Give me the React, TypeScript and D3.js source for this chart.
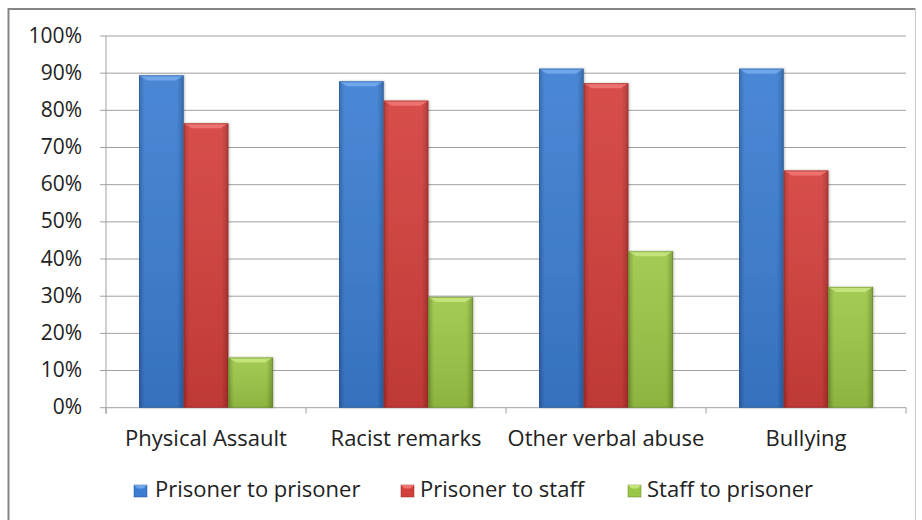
import React from "react";
import * as d3 from "d3";

const categories = ["Physical Assault", "Racist remarks", "Other verbal abuse", "Bullying"];
const seriesNames = ["Prisoner to prisoner", "Prisoner to staff", "Staff to prisoner"];
const prisonerToPrisoner = [0.894, 0.878, 0.912, 0.912];
const prisonerToStaff = [0.765, 0.826, 0.873, 0.638];
const staffToPrisoner = [0.135, 0.298, 0.421, 0.325];
const yTicks = [0, 0.1, 0.2, 0.3, 0.4, 0.5, 0.6, 0.7, 0.8, 0.9, 1.0];

const palettes = [
  { base: "#3b7dd1", dark: "#2a5fa6", light: "#6fa6ea", edge: "#24548f" },
  { base: "#d33f3b", dark: "#a62d2a", light: "#ee7370", edge: "#8f2826" },
  { base: "#9bc746", dark: "#74992d", light: "#c2e47a", edge: "#5f7f23" },
];

export default function App() {
  const W = 922, H = 520;
  const left = 106, right = 906, top = 36, bottom = 407.7;
  const x0 = d3.scaleBand<string>().domain(categories).range([left, right]).paddingInner(0.33).paddingOuter(0.165);
  const x1 = d3.scaleBand<number>().domain([0, 1, 2]).range([0, x0.bandwidth()]);
  const y = d3.scaleLinear().domain([0, 1]).range([bottom, top]);
  const series = [prisonerToPrisoner, prisonerToStaff, staffToPrisoner];
  const font = "Open Sans, sans-serif";
  const tickXs = d3.range(categories.length + 1).map((i) => left + (i * (right - left)) / categories.length);

  const legendSq = [134, 401, 628];
  const legendTx = [155, 420, 647];

  return (
    <svg width={W} height={H} style={{ position: "absolute", left: 0, top: 0 }}>
      <defs>
        {palettes.map((p, i) => (
          <linearGradient key={i} id={`g${i}`} x1="0" x2="1" y1="0" y2="0">
            <stop offset="0" stopColor={p.dark} />
            <stop offset="0.12" stopColor={p.base} />
            <stop offset="0.85" stopColor={p.base} />
            <stop offset="1" stopColor={p.dark} />
          </linearGradient>
        ))}
        {palettes.map((p, i) => (
          <linearGradient key={"v" + i} id={`v${i}`} x1="0" x2="0" y1="0" y2="1">
            <stop offset="0" stopColor="#fff" stopOpacity="0.08" />
            <stop offset="1" stopColor="#000" stopOpacity="0.1" />
          </linearGradient>
        ))}
        <filter id="sh" x="-20%" y="-5%" width="140%" height="110%">
          <feDropShadow dx="1" dy="0" stdDeviation="1.2" floodColor="#000" floodOpacity="0.25" />
        </filter>
      </defs>
      <rect x={0} y={0} width={W} height={H} fill="#fff" />
      <line x1={8.5} x2={8.5} y1={8} y2={H} stroke="#858585" strokeWidth={2} />
      <line x1={8} x2={916} y1={9} y2={9} stroke="#858585" strokeWidth={2} />
      <line x1={915.5} x2={915.5} y1={8} y2={H} stroke="#c8c8c8" strokeWidth={1} />
      {yTicks.map((t) => (
        <g key={t}>
          <line x1={left - 6} x2={right} y1={y(t)} y2={y(t)} stroke="#a0a0a0" strokeWidth={1} />
          <text x={82} y={y(t) + 6.5} textAnchor="end" fontFamily={font} fontSize={21} fill="#222">
            {Math.round(t * 100) + "%"}
          </text>
        </g>
      ))}
      <line x1={left} x2={left} y1={top} y2={bottom + 6} stroke="#a0a0a0" />
      {tickXs.map((tx, i) => (
        <line key={i} x1={tx} x2={tx} y1={bottom} y2={bottom + 6} stroke="#a0a0a0" />
      ))}
      {categories.map((c, ci) => (
        <g key={c}>
          {series.map((s, si) => {
            const bx = (x0(c) as number) + (x1(si) as number);
            const bw = x1.bandwidth();
            const by = y(s[ci]);
            const bh = bottom - by;
            const p = palettes[si];
            const bev = 5;
            return (
              <g key={si} filter="url(#sh)">
                <rect x={bx} y={by} width={bw} height={bh} fill={`url(#g${si})`} />
                <rect x={bx} y={by} width={bw} height={bh} fill={`url(#v${si})`} />
                <polygon
                  points={`${bx},${by} ${bx + bw},${by} ${bx + bw - bev * 1.6},${by + bev} ${bx + bev * 1.6},${by + bev}`}
                  fill={p.light}
                />
                <rect x={bx + 0.5} y={by + 0.5} width={bw - 1} height={bh - 1} fill="none" stroke={p.edge} strokeOpacity={0.5} />
              </g>
            );
          })}
          <text x={(x0(c) as number) + x0.bandwidth() / 2} y={446} textAnchor="middle" fontFamily={font} fontSize={22} fill="#222">
            {c}
          </text>
        </g>
      ))}
      {seriesNames.map((n, i) => (
        <g key={n}>
          <rect x={legendSq[i]} y={485} width={13} height={12} fill={palettes[i].base} stroke={palettes[i].edge} strokeWidth={0.5} />
          <polygon points={`${legendSq[i]},485 ${legendSq[i] + 13},485 ${legendSq[i] + 9.5},488.5 ${legendSq[i] + 3.5},488.5`} fill={palettes[i].light} />
          <text x={legendTx[i]} y={497} fontFamily={font} fontSize={22} fill="#222">
            {n}
          </text>
        </g>
      ))}
    </svg>
  );
}
